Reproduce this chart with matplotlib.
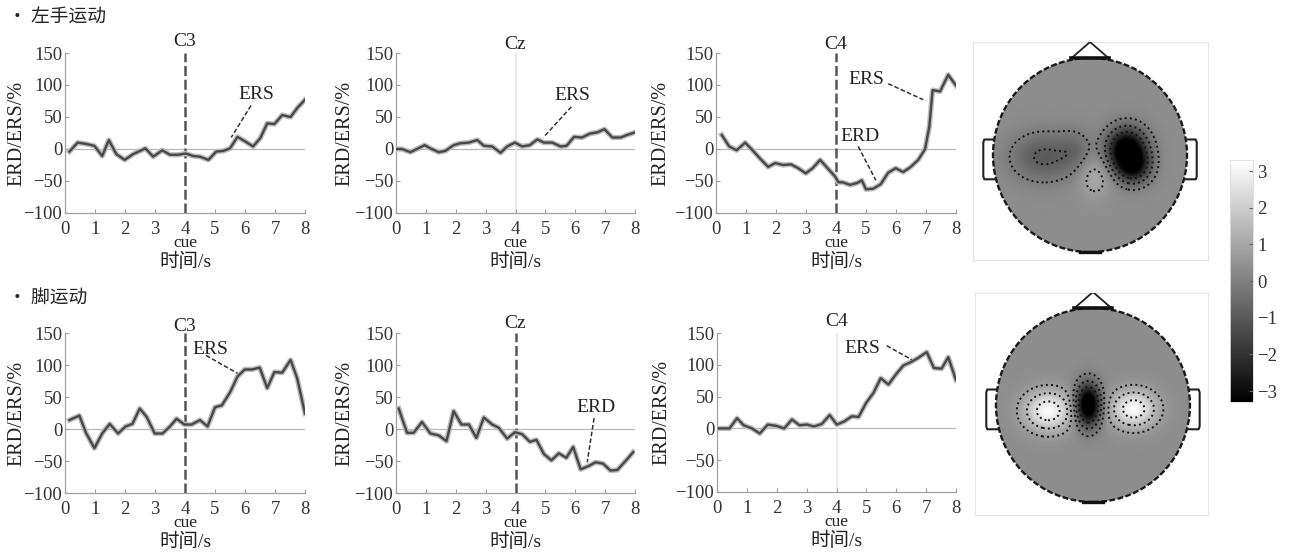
import numpy as np
import matplotlib
matplotlib.use('Agg')
import matplotlib.pyplot as plt
from matplotlib.patches import Circle

plt.rcParams['font.family'] = ['Liberation Serif', 'Noto Sans CJK SC']
plt.rcParams['axes.unicode_minus'] = True

W, H = 1289, 553

# ---------------- data ----------------
x_ticks = [0, 1, 2, 3, 4, 5, 6, 7, 8]
y_ticks = [-100, -50, 0, 50, 100, 150]
section_titles = ['• 左手运动', '• 脚运动']
channel_names = ['C3', 'Cz', 'C4']
y_label = 'ERD/ERS/%'
x_label = '时间/s'
cue_label = 'cue'

lh_c3_t = [0.15, 0.42, 0.70, 0.98, 1.24, 1.46, 1.71, 1.99, 2.27, 2.68, 2.94, 3.24, 3.50, 3.78, 4.02, 4.28,
           4.50, 4.78, 5.04, 5.28, 5.50, 5.75, 6.00, 6.27, 6.51, 6.74, 6.98, 7.24, 7.52, 7.74, 8.00]
lh_c3_v = [-4, 10, 8, 5, -11, 14, -8, -17, -8, 1, -12, -2, -9, -9, -7, -11,
           -12, -17, -4, -3, 1, 19, 12, 4, 17, 40, 39, 53, 50, 64, 77]

lh_cz_t = [0.03, 0.20, 0.48, 0.70, 0.96, 1.15, 1.43, 1.65, 1.93, 2.16, 2.44, 2.72, 2.94, 3.22, 3.50, 3.72, 3.98,
           4.22, 4.48, 4.73, 4.95, 5.23, 5.51, 5.71, 5.96, 6.23, 6.49, 6.74, 6.98, 7.24, 7.52, 7.74, 8.00]
lh_cz_v = [0, 0, -5, 0, 6, 1, -5, -3, 6, 9, 10, 14, 5, 4, -6, 4, 10,
           4, 6, 15, 10, 10, 4, 5, 19, 18, 24, 26, 31, 18, 18, 22, 26]

lh_c4_t = [0.19, 0.44, 0.69, 0.97, 1.22, 1.47, 1.74, 1.97, 2.24, 2.50, 2.74, 2.99, 3.22, 3.47, 3.72, 3.97, 4.08, 4.22,
           4.47, 4.71, 4.86, 5.00, 5.24, 5.49, 5.74, 5.99, 6.24, 6.49, 6.74, 6.97, 7.11, 7.22, 7.47, 7.74, 8.00]
lh_c4_v = [22, 4, -2, 10, -2, -15, -28, -22, -25, -24, -30, -38, -30, -17, -30, -43, -52, -52,
           -56, -53, -49, -63, -62, -55, -37, -30, -36, -28, -17, 0, 35, 92, 90, 116, 99]

ft_c3_t = [0.15, 0.48, 0.70, 0.98, 1.24, 1.49, 1.77, 2.02, 2.25, 2.49, 2.72, 2.99, 3.25, 3.50, 3.72, 3.98,
           4.22, 4.50, 4.75, 5.00, 5.23, 5.51, 5.75, 5.99, 6.23, 6.49, 6.74, 6.98, 7.24, 7.52, 7.74, 8.00]
ft_c3_v = [14, 21, -6, -30, -7, 8, -7, 4, 8, 32, 19, -7, -7, 4, 16, 7,
           7, 14, 4, 34, 37, 58, 82, 93, 93, 96, 64, 89, 88, 108, 79, 24]

ft_cz_t = [0.09, 0.37, 0.59, 0.87, 1.15, 1.43, 1.69, 1.93, 2.19, 2.44, 2.69, 2.94, 3.22, 3.44, 3.72, 3.98,
           4.22, 4.48, 4.70, 4.95, 5.20, 5.45, 5.70, 5.93, 6.18, 6.44, 6.68, 6.93, 7.18, 7.41, 7.74, 7.94]
ft_cz_v = [32, -6, -6, 11, -7, -10, -19, 28, 7, 7, -14, 18, 7, 2, -15, -5,
           -8, -20, -17, -39, -49, -38, -45, -28, -63, -58, -52, -54, -65, -64, -47, -36]

ft_c4_t = [0.06, 0.42, 0.67, 0.89, 1.17, 1.43, 1.70, 1.98, 2.25, 2.51, 2.76, 3.01, 3.25, 3.51, 3.77, 4.01,
           4.26, 4.51, 4.74, 4.99, 5.24, 5.48, 5.74, 5.99, 6.24, 6.48, 6.74, 7.02, 7.26, 7.52, 7.74, 8.00]
ft_c4_v = [0, 0, 16, 5, 0, -8, 6, 4, 0, 14, 5, 6, 3, 7, 21, 6,
           11, 19, 18, 40, 56, 79, 69, 85, 99, 104, 111, 120, 95, 94, 112, 76]

# annotations: (label, text x, text y, line start x, y, line end x, y)
lh_c3_notes = [('ERS', 6.37, 85, 6.2, 68, 5.54, 18)]
lh_cz_notes = [('ERS', 5.9, 83, 5.87, 66, 4.95, 19)]
lh_c4_notes = [('ERS', 5.02, 108, 5.74, 102, 6.91, 77),
               ('ERD', 4.8, 19, 4.74, 4, 5.33, -49)]
ft_c3_notes = [('ERS', 4.86, 125, 4.7, 115, 5.75, 87)]
ft_cz_notes = [('ERD', 6.68, 33, 6.63, 17, 6.4, -52)]
ft_c4_notes = [('ERS', 4.88, 126, 5.68, 130, 6.52, 108)]

# topomap sources: (x, y, amplitude, sx, sy) in head units
lh_topo_base = 0.35
lh_topo_src = [(0.38, 0.06, -4.4, 0.14, 0.15), (0.45, -0.12, -2.8, 0.12, 0.12),
               (-0.48, -0.02, -1.3, 0.24, 0.18), (-0.15, 0.05, -0.6, 0.12, 0.15),
               (0.05, -0.22, 0.8, 0.12, 0.15)]
ft_topo_base = 0.35
ft_topo_src = [(-0.05, 0.0, -4.8, 0.09, 0.15), (-0.46, -0.06, 2.8, 0.17, 0.14),
               (0.42, -0.04, 2.8, 0.16, 0.13)]
cbar_ticks = [-3, -2, -1, 0, 1, 2, 3]

# ---------------- figure ----------------
fig = plt.figure(figsize=(W / 100, H / 100), dpi=100)


def rect(x0, y0, x1, y1):
    return [x0 / W, 1 - y1 / H, (x1 - x0) / W, (y1 - y0) / H]


TXT = '#222222'


def panel(r, title, title_off, t, v, cue_dark, notes, ylx):
    ax = fig.add_axes(r)
    ax.set_xlim(0, 8)
    ax.set_ylim(-100, 150)
    ax.axhline(0, color='#b8b8b8', lw=0.9, zorder=1)
    if cue_dark:
        ax.axvline(4, color='#555555', lw=1.8, ls=(0, (4, 1.5)), zorder=2, clip_on=False)
    else:
        ax.axvline(4, color='#e8e8e8', lw=1.2, zorder=1)
    ax.plot(t, v, color='#bdbdbd', lw=3.8, solid_joinstyle='round', zorder=3)
    ax.plot(t, v, color='#474747', lw=1.7, solid_joinstyle='round', zorder=4)
    for lab, tx, ty, x1, y1, x2, y2 in notes:
        ax.text(tx, ty, lab, ha='center', va='center', fontsize=14, color=TXT, zorder=5)
        ax.plot([x1, x2], [y1, y2], color='#333333', lw=1.1, ls=(0, (3, 1.5)), zorder=5)
    for s in ['top', 'right']:
        ax.spines[s].set_visible(False)
    for s in ['left', 'bottom']:
        ax.spines[s].set_color('#a0a0a0')
        ax.spines[s].set_linewidth(0.9)
    ax.set_xticks(x_ticks)
    ax.set_yticks(y_ticks)
    ax.tick_params(direction='in', length=3, color='#a0a0a0', labelsize=13.5,
                   labelcolor='#333333')
    ax.tick_params(axis='x', pad=6)
    ax.tick_params(axis='y', pad=2)
    ax.annotate(title, xy=(4, 1), xycoords=('data', 'axes fraction'), xytext=(0, title_off),
                textcoords='offset points', ha='center', va='center', fontsize=14, color=TXT)
    ax.annotate(cue_label, xy=(4, 0), xycoords=('data', 'axes fraction'), xytext=(0, -21.5),
                textcoords='offset points', ha='center', va='center', fontsize=12.5, color=TXT)
    ax.annotate(x_label, xy=(0.5, 0), xycoords='axes fraction', xytext=(0, -35.5),
                textcoords='offset points', ha='center', va='center', fontsize=14, color=TXT)
    ax.text(ylx, 0.5, y_label, transform=ax.transAxes, rotation=90, ha='center', va='center',
            fontsize=14.5, color=TXT)
    return ax


panel(rect(65, 53, 305, 213), channel_names[0], 8, lh_c3_t, lh_c3_v, True, lh_c3_notes, -0.2)
panel(rect(396, 53, 635, 213), channel_names[1], 6, lh_cz_t, lh_cz_v, False, lh_cz_notes, -0.215)
panel(rect(716, 53, 956, 213), channel_names[2], 6, lh_c4_t, lh_c4_v, True, lh_c4_notes, -0.23)
panel(rect(65, 333, 305, 493), channel_names[0], 4.5, ft_c3_t, ft_c3_v, True, ft_c3_notes, -0.2)
panel(rect(396, 333, 635, 493), channel_names[1], 7, ft_cz_t, ft_cz_v, True, ft_cz_notes, -0.215)
panel(rect(717, 333, 956, 492), channel_names[2], 8, ft_c4_t, ft_c4_v, False, ft_c4_notes, -0.23)

fig.text(8 / W, 1 - 17 / H, section_titles[0], ha='left', va='center', fontsize=13.5,
         color=TXT, family=['Noto Sans CJK SC', 'DejaVu Sans'])
fig.text(8 / W, 1 - 297 / H, section_titles[1], ha='left', va='center', fontsize=13.5,
         color=TXT, family=['Noto Sans CJK SC', 'DejaVu Sans'])

VMIN, VMAX = -3.3, 3.3


def topo(r, xl, yl, base, src):
    ax = fig.add_axes(r)
    g = np.linspace(-1.02, 1.02, 261)
    X, Y = np.meshgrid(g, g)
    Z = np.full_like(X, base)
    for x0, y0, a, sx, sy in src:
        Z += a * np.exp(-((X - x0) ** 2 / (2 * sx ** 2) + (Y - y0) ** 2 / (2 * sy ** 2)))
    im = ax.imshow(Z, extent=[-1.02, 1.02, -1.02, 1.02], origin='lower', cmap='gray',
                   vmin=VMIN, vmax=VMAX, interpolation='bilinear', zorder=1)
    clip = Circle((0, 0), 1.0, transform=ax.transData)
    im.set_clip_path(clip)
    cs = ax.contour(X, Y, Z, levels=[base - 2.2, base - 1.2, base - 0.45, base + 0.45, base + 1.2, base + 2.2],
                    colors='#111111', linestyles=':', linewidths=1.4, zorder=2)
    cs.set_clip_path(Circle((0, 0), 0.98, transform=ax.transData))
    ax.add_patch(Circle((0, 0), 1.0, fill=False, ec='#1a1a1a', lw=1.7, ls=(0, (2.5, 1)), zorder=3))
    ax.plot([-0.19, 0, 0.19], [1.0, 1.165, 1.0], color='#222222', lw=1.3, zorder=3)
    ax.plot([-0.2, 0.2], [1.005, 1.005], color='#111111', lw=2.6, zorder=3)
    ax.plot([-0.99, -1.09, -1.1, -1.1, -1.09, -0.99], [0.16, 0.16, 0.13, -0.22, -0.25, -0.25],
            color='#222222', lw=1.5, zorder=3)
    ax.plot([0.99, 1.09, 1.1, 1.1, 1.09, 0.99], [0.16, 0.16, 0.13, -0.22, -0.25, -0.25],
            color='#222222', lw=1.5, zorder=3)
    ax.plot([-0.1, 0.1], [-1.0, -1.0], color='#111111', lw=2.4, zorder=3)
    ax.set_xlim(*xl)
    ax.set_ylim(*yl)
    ax.set_xticks([])
    ax.set_yticks([])
    for s in ax.spines.values():
        s.set_color('#e4e4e4')
        s.set_linewidth(0.8)
    return im


im = topo(rect(973, 42, 1208, 260), (-1.206, 1.216), (-1.082, 1.165), lh_topo_base, lh_topo_src)
topo(rect(975, 293, 1208, 515), (-1.216, 1.186), (-1.134, 1.155), ft_topo_base, ft_topo_src)

cax = fig.add_axes(rect(1230, 160, 1253, 402))
cb = fig.colorbar(im, cax=cax, ticks=cbar_ticks)
cb.outline.set_edgecolor('#dddddd')
cb.outline.set_linewidth(0.6)
cax.tick_params(direction='in', length=3, color='#666666', labelsize=13.5, labelcolor='#333333', pad=3)

fig.savefig('out.png', dpi=100, facecolor='white')
